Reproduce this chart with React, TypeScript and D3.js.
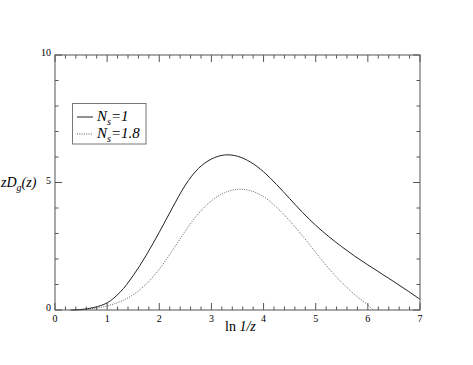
import React from "react";
import * as d3 from "d3";

// ln(1/z) grid and the two spectra
const xsSolid = [0.3, 0.5, 0.75, 1.0, 1.25, 1.5, 1.75, 2.0, 2.25, 2.5, 2.75, 3.0, 3.25, 3.5, 3.75, 4.0, 4.25, 4.5, 4.75, 5.0, 5.25, 5.5, 5.75, 6.0, 6.25, 6.5, 6.75, 7.0];
const ysSolid = [0, 0.02, 0.1, 0.28, 0.7, 1.35, 2.15, 3.05, 4.0, 4.9, 5.55, 5.92, 6.08, 6.03, 5.8, 5.42, 4.92, 4.37, 3.82, 3.32, 2.88, 2.48, 2.11, 1.77, 1.44, 1.11, 0.77, 0.42];

const xsDotted = [0.4, 0.5, 0.75, 1.0, 1.25, 1.5, 1.75, 2.0, 2.25, 2.5, 2.75, 3.0, 3.25, 3.5, 3.75, 4.0, 4.25, 4.5, 4.75, 5.0, 5.25, 5.5, 5.75, 6.0, 6.1];
const ysDotted = [0, 0.01, 0.06, 0.16, 0.33, 0.6, 1.02, 1.6, 2.33, 3.1, 3.78, 4.28, 4.6, 4.73, 4.68, 4.44, 4.03, 3.5, 2.9, 2.26, 1.63, 1.08, 0.6, 0.2, 0];

const xMajor = [0, 1, 2, 3, 4, 5, 6, 7];
const yMajor = [0, 5, 10];

const M = { left: 55, right: 420, top: 55, bottom: 310 };
const FONT = "Liberation Serif, DejaVu Serif, serif";

export default function App() {
  const x = d3.scaleLinear().domain([0, 7]).range([M.left, M.right]);
  const y = d3.scaleLinear().domain([0, 10]).range([M.bottom, M.top]);

  const line = d3
    .line<[number, number]>()
    .x(d => x(d[0]))
    .y(d => y(d[1]))
    .curve(d3.curveCatmullRom.alpha(0.5));

  const solid = line(xsSolid.map((v, i) => [v, ysSolid[i]] as [number, number])) || "";
  const dotted = line(xsDotted.map((v, i) => [v, ysDotted[i]] as [number, number])) || "";

  const xMinor = d3.range(0, 7.001, 0.2).filter(v => Math.abs(v - Math.round(v)) > 0.01);
  const yMinor = d3.range(0, 10.001, 1).filter(v => v % 5 !== 0);
  const frame = "#555";

  return (
    <div style={{ fontFamily: FONT }}>
      <svg width={473} height={365} style={{ position: "absolute", left: 0, top: 0, background: "#fff", fontFamily: FONT }}>
        <rect x={M.left} y={M.top} width={M.right - M.left} height={M.bottom - M.top} fill="none" stroke={frame} strokeWidth={1} />

        {xMinor.map(v => (
          <g key={"xm" + v}>
            <line x1={x(v)} x2={x(v)} y1={M.bottom} y2={M.bottom - 3.5} stroke={frame} />
            <line x1={x(v)} x2={x(v)} y1={M.top} y2={M.top + 3.5} stroke={frame} />
          </g>
        ))}
        {xMajor.map(v => (
          <g key={"xM" + v}>
            <line x1={x(v)} x2={x(v)} y1={M.bottom} y2={M.bottom - 7} stroke={frame} />
            <line x1={x(v)} x2={x(v)} y1={M.top} y2={M.top + 7} stroke={frame} />
            <text x={x(v)} y={M.bottom + 12} fontSize={10} textAnchor="middle">{v}</text>
          </g>
        ))}
        {yMinor.map(v => (
          <g key={"ym" + v}>
            <line x1={M.left} x2={M.left + 3.5} y1={y(v)} y2={y(v)} stroke={frame} />
            <line x1={M.right} x2={M.right - 3.5} y1={y(v)} y2={y(v)} stroke={frame} />
          </g>
        ))}
        {yMajor.map(v => (
          <g key={"yM" + v}>
            <line x1={M.left} x2={M.left + 7} y1={y(v)} y2={y(v)} stroke={frame} />
            <line x1={M.right} x2={M.right - 7} y1={y(v)} y2={y(v)} stroke={frame} />
            <text x={M.left - 4} y={y(v) + 1} fontSize={10} textAnchor="end">{v}</text>
          </g>
        ))}

        <path d={solid} fill="none" stroke="#222" strokeWidth={1} />
        <path d={dotted} fill="none" stroke="#555" strokeWidth={0.9} strokeDasharray="1,1.3" />

        <text x={1} y={187} fontSize={14} fontStyle="italic">
          zD<tspan dy={4} fontSize={10}>g</tspan><tspan dy={-4}>(z)</tspan>
        </text>
        <text x={225} y={331} fontSize={14}>
          ln <tspan fontStyle="italic">1/z</tspan>
        </text>

        <rect x={72.5} y={103.5} width={73.5} height={40.5} fill="#fff" stroke="#777" strokeWidth={1} />
        <line x1={77} x2={93} y1={117} y2={117} stroke="#222" />
        <line x1={77} x2={93} y1={134} y2={134} stroke="#555" strokeDasharray="1,1.3" />
        <text x={97} y={121} fontSize={15} fontStyle="italic">
          N<tspan dy={4} fontSize={10}>s</tspan><tspan dy={-4}>=1</tspan>
        </text>
        <text x={97} y={138} fontSize={15} fontStyle="italic">
          N<tspan dy={4} fontSize={10}>s</tspan><tspan dy={-4}>=1.8</tspan>
        </text>
      </svg>
    </div>
  );
}
